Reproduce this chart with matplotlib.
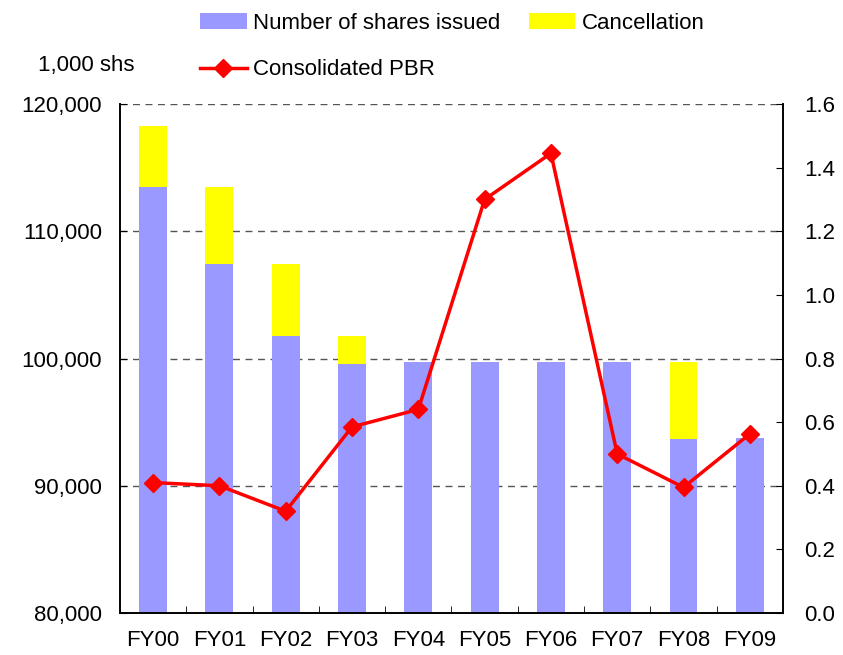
import numpy as np
import matplotlib.pyplot as plt

plt.rcParams['font.family'] = ['Liberation Sans', 'DejaVu Sans']

years = ['FY00', 'FY01', 'FY02', 'FY03', 'FY04', 'FY05', 'FY06', 'FY07', 'FY08', 'FY09']
shares_issued = [113480, 107430, 101770, 99570, 99720, 99720, 99720, 99720, 93670, 93750]
cancellation = [4790, 6050, 5660, 2200, 0, 0, 0, 0, 6050, 0]
pbr = [0.41, 0.40, 0.32, 0.585, 0.64, 1.30, 1.445, 0.50, 0.395, 0.563]

fig = plt.figure(figsize=(8.43, 6.55), dpi=100)
ax = fig.add_axes([0.1423, 0.0641, 0.7865, 0.7771])
ax2 = ax.twinx()

x = np.arange(len(years))
b1 = ax.bar(x, shares_issued, width=0.42, color='#9999ff', label='Number of shares issued', zorder=2)
b2 = ax.bar(x, cancellation, width=0.42, bottom=shares_issued, color='#ffff00', label='Cancellation', zorder=2)

ln, = ax2.plot(x, pbr, color='#ff0000', lw=2.5, marker='D', markersize=9, label='Consolidated PBR')

ax.set_xlim(-0.5, len(years) - 0.5)
ax.set_ylim(80000, 120000)
ax.set_yticks(np.arange(80000, 120001, 10000))
ax.set_yticklabels(['{:,}'.format(v) for v in range(80000, 120001, 10000)])
ax.yaxis.grid(True, linestyle=(0, (5, 4)), color='#555555', lw=1, zorder=0)
ax.set_axisbelow(True)

ax2.set_ylim(0, 1.6)
ax2.set_yticks(np.arange(0, 1.61, 0.2))
ax2.set_yticklabels(['{:.1f}'.format(v) for v in np.arange(0, 1.61, 0.2)])

ax.set_xticks(x)
ax.set_xticklabels(years)
ax.set_xticks(np.arange(0.5, len(years) - 1, 1), minor=True)
ax.tick_params(axis='x', which='major', length=0, labelsize=16, pad=12)
ax.tick_params(axis='x', which='minor', direction='in', length=5)
ax.tick_params(axis='y', direction='in', length=5, labelsize=16, pad=13)
ax2.tick_params(axis='y', direction='in', length=5, labelsize=16, pad=15)

for a in (ax, ax2):
    a.spines['top'].set_visible(False)
    for s in ('left', 'right', 'bottom'):
        a.spines[s].set_linewidth(1.2)

fig.text(0.045, 1 - 66 / 655, '1,000 shs', fontsize=16, va='center')

fig.legend([b1, ln, b2], ['Number of shares issued', 'Consolidated PBR', 'Cancellation'],
           ncol=2, loc='upper left', bbox_to_anchor=(0.2136, 1.011), frameon=False,
           fontsize=16, handlelength=2.1, handletextpad=0.3, columnspacing=1.26,
           labelspacing=1.15)

fig.savefig('out.png', dpi=100)
